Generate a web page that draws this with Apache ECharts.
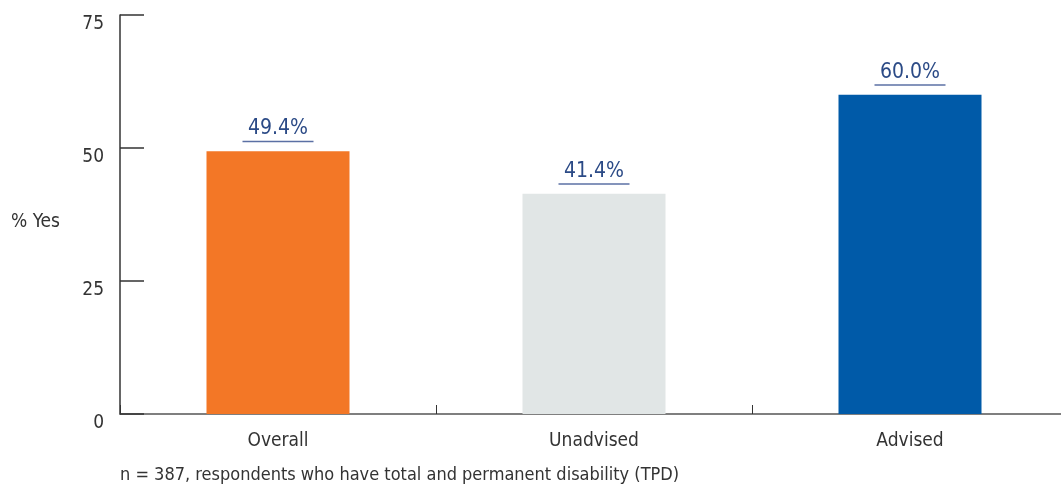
<!DOCTYPE html>
<html><head><meta charset="utf-8">
<script src="https://cdn.jsdelivr.net/npm/echarts@6/dist/echarts.min.js"></script>
<style>html,body{margin:0;padding:0;background:#fff}#c{width:1061px;height:490px}</style>
</head><body><div id="c"></div>
<script>
const categories = ['Overall', 'Unadvised', 'Advised'];
const values = [49.4, 41.4, 60.0];
const barColors = ['#f37726', '#e1e6e6', '#005aa8'];
const yTicks = [0, 25, 50, 75];
const yAxisName = '% Yes';
const footnote = 'n = 387, respondents who have total and permanent disability (TPD)';

const font = '"Liberation Sans Narrow", "DejaVu Sans Condensed", "Noto Sans", sans-serif';
const chart = echarts.init(document.getElementById('c'));
chart.setOption({
  animation: false,
  grid: { left: 120, top: 15, width: 948, height: 399, containLabel: false, outerBoundsMode: 'none' },
  graphic: [{ type: 'text', left: 120, top: 466, style: { text: footnote, font: '18px ' + font, fill: '#333' } }],
  xAxis: {
    type: 'category', data: categories,
    axisLine: { lineStyle: { color: '#555', width: 1.5 } },
    axisTick: { show: true, inside: true, length: 9, lineStyle: { color: '#333' } },
    axisLabel: { fontFamily: font, fontSize: 19, color: '#333', margin: 18 }
  },
  yAxis: {
    type: 'value', min: yTicks[0], max: yTicks[yTicks.length - 1], interval: 25,
    name: yAxisName, nameLocation: 'middle', nameRotate: 0, nameGap: 60,
    nameTextStyle: { fontFamily: font, fontSize: 19, color: '#333', verticalAlign: 'top', lineHeight: 16 },
    axisLine: { show: true, lineStyle: { color: '#333', width: 1.5 } },
    axisTick: { show: true, inside: true, length: 24, lineStyle: { color: '#333', width: 1.5 } },
    axisLabel: { fontFamily: font, fontSize: 19, color: '#333', margin: 16, verticalAlign: 'top', lineHeight: 18 },
    splitLine: { show: false }
  },
  series: [{
    type: 'bar', barWidth: 143,
    data: values.map((v, i) => ({ value: v, itemStyle: { color: barColors[i] } })),
    label: {
      show: true, position: 'top', distance: 9,
      formatter: p => '{v|' + p.value.toFixed(1) + '%}\n{u|}',
      rich: {
        v: { fontFamily: font, fontSize: 21, color: '#2b4a86', align: 'center', lineHeight: 24 },
        u: { width: 71, height: 1.5, backgroundColor: '#5b70a4', align: 'center' }
      }
    }
  }]
});
</script></body></html>
